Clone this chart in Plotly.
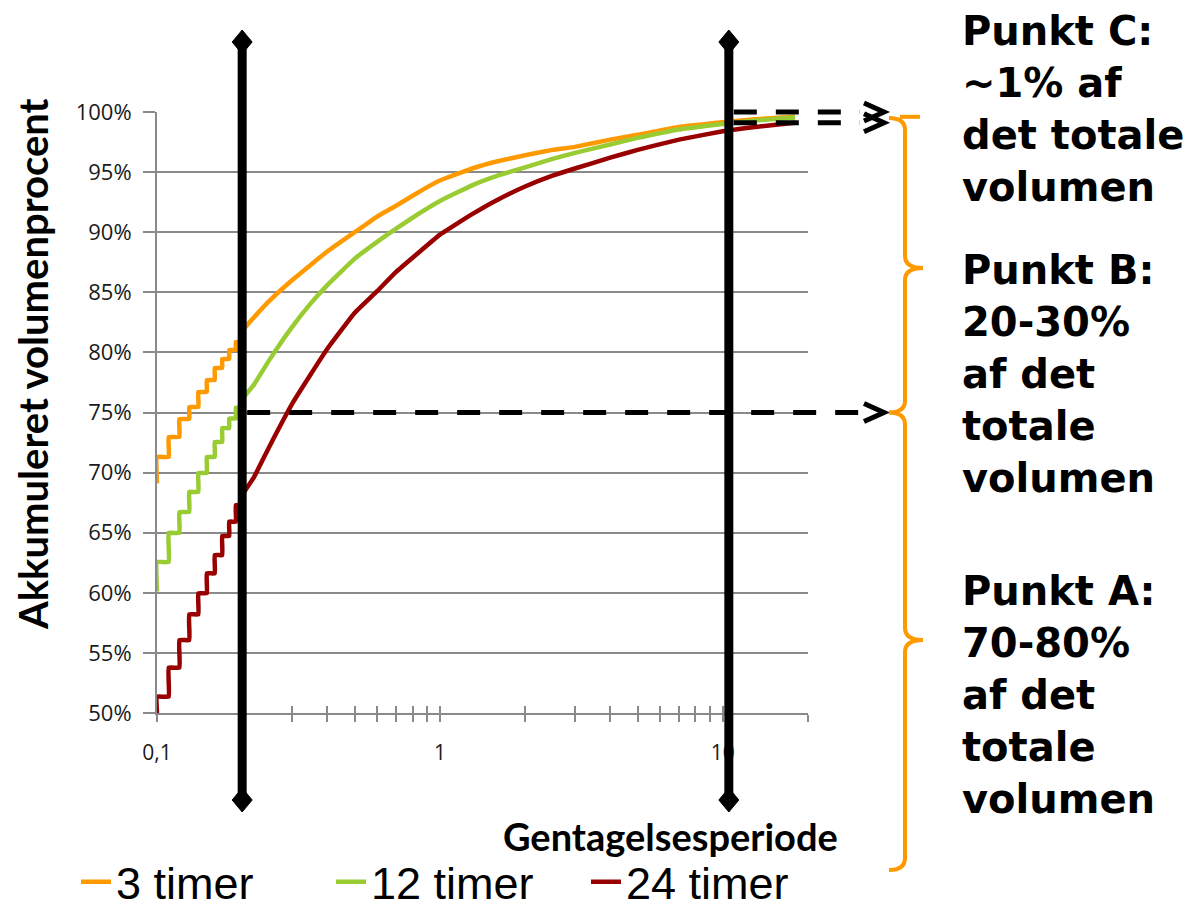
import math
import plotly.graph_objects as go

# ---------------- data ----------------
SERIES_NAMES = ["3 timer", "12 timer", "24 timer"]
SERIES_COLORS = ["#FF9900", "#99CC33", "#990000"]

# stepped part (return periods rounded to 0.01)
STEP_X = [0.10, 0.11, 0.12, 0.13, 0.14, 0.15, 0.16, 0.17, 0.18, 0.19, 0.20]
START_3 = 69.1
START_12 = 60.1
START_24 = 50.0
STEPS_3 = [71.30, 72.96, 74.46, 75.46, 76.71, 77.70, 78.70, 79.45, 80.20, 80.87, 81.75]
STEPS_12 = [62.56, 64.98, 66.72, 68.39, 69.97, 71.30, 72.55, 73.70, 74.50, 75.40, 76.10]
STEPS_24 = [51.36, 53.77, 56.07, 58.21, 59.96, 61.62, 63.14, 64.73, 65.92, 67.30, 68.10]

# smooth part
SMOOTH_X = [0.22, 0.25, 0.3, 0.35, 0.4, 0.5, 0.6, 0.7, 0.85, 1.0, 1.3, 1.6, 2, 2.5, 3, 4, 5, 7, 10, 13, 18]
SMOOTH_3 = [82.9, 84.3, 86.0, 87.3, 88.4, 90.0, 91.3, 92.2, 93.4, 94.3, 95.3, 95.9, 96.4,
            96.85, 97.1, 97.7, 98.1, 98.75, 99.15, 99.4, 99.6]
SMOOTH_12 = [77.3, 79.4, 82.1, 84.1, 85.6, 87.8, 89.2, 90.3, 91.6, 92.6, 93.9, 94.7, 95.4,
             96.1, 96.6, 97.3, 97.85, 98.55, 99.0, 99.3, 99.55]
SMOOTH_24 = [69.6, 72.2, 75.7, 78.2, 80.3, 83.3, 85.1, 86.7, 88.4, 89.8, 91.5, 92.7, 93.8,
             94.7, 95.3, 96.2, 96.85, 97.7, 98.4, 98.75, 99.1]

Y_TICKS = [50, 55, 60, 65, 70, 75, 80, 85, 90, 95, 100]
Y_TICK_TEXT = [f"{v}%" for v in Y_TICKS]
X_MAJOR = [0.1, 1, 10]
X_MAJOR_TEXT = ["0,1", "1", "10"]
X_MINOR = [0.2, 0.3, 0.4, 0.5, 0.6, 0.7, 0.8, 0.9, 2, 3, 4, 5, 6, 7, 8, 9, 20]

MARK_X = [0.2, 10.5]          # black vertical markers
LEVEL_A = 75.0                # dashed arrow level (Punkt A/B boundary)
LEVELS_C = [100.0, 99.1]      # dashed arrows near top

TEXT_C = "Punkt C:<br>~1% af<br>det totale<br>volumen"
TEXT_B = "Punkt B:<br>20-30%<br>af det<br>totale<br>volumen"
TEXT_A = "Punkt A:<br>70-80%<br>af det<br>totale<br>volumen"

# ---------------- layout geometry ----------------
OFF = 8                       # page body margin
W, H = 1198 - OFF, 918 - OFF
PL, PT, PW, PH = 157, 112, 651, 601   # plot area in reference pixels
X_RANGE = [-1.0, math.log10(20)]
Y_RANGE = [50, 100]


def xp(px):
    return (px - PL) / PW


def yp(py):
    return (PT + PH - py) / PH


def ypd(v):
    return (v - Y_RANGE[0]) / (Y_RANGE[1] - Y_RANGE[0])


def xdata_to_paper(x):
    return (math.log10(x) - X_RANGE[0]) / (X_RANGE[1] - X_RANGE[0])


def build(start, steps, smooth):
    xs, ys = [STEP_X[0]], [start]
    prev = start
    for x, y in zip(STEP_X, steps):
        xs += [x, x]
        ys += [prev, y]
        prev = y
    xs += SMOOTH_X
    ys += smooth
    return xs, ys


GRAY = "#8a8a8a"
fig = go.Figure()

for name, color, (st, sp, sm) in zip(
    SERIES_NAMES, SERIES_COLORS,
    [(START_3, STEPS_3, SMOOTH_3), (START_12, STEPS_12, SMOOTH_12), (START_24, STEPS_24, SMOOTH_24)],
):
    xs, ys = build(st, sp, sm)
    fig.add_trace(go.Scatter(x=xs, y=ys, mode="lines", name=name,
                             line=dict(color=color, width=4.5, shape="spline", smoothing=0.3)))

# dummy trace for the overlay axis (inside ticks)
fig.add_trace(go.Scatter(x=[None], y=[None], xaxis="x2", showlegend=False, hoverinfo="skip"))

shapes = []
hw, hh = 10 / PW, 12 / PH
for mx in MARK_X:
    xpp = xdata_to_paper(mx)
    shapes.append(dict(type="line", xref="paper", yref="paper",
                       x0=xpp, x1=xpp, y0=yp(795), y1=yp(48), line=dict(color="black", width=9)))
    for ypp in (yp(42), yp(800)):
        shapes.append(dict(type="path", xref="paper", yref="paper",
                           path=f"M {xpp - hw},{ypp} L {xpp},{ypp + hh} L {xpp + hw},{ypp} L {xpp},{ypp - hh} Z",
                           fillcolor="black", line=dict(color="black", width=1)))

DASH = "23px,19px"
shapes.append(dict(type="line", xref="paper", yref="paper",
                   x0=xdata_to_paper(MARK_X[0]) + 5 / PW, x1=xp(862), y0=ypd(LEVEL_A), y1=ypd(LEVEL_A),
                   line=dict(color="black", width=5, dash=DASH)))
for lv in LEVELS_C:
    shapes.append(dict(type="line", xref="paper", yref="paper",
                       x0=xdata_to_paper(MARK_X[1]) + 5 / PW, x1=xp(860), y0=ypd(lv), y1=ypd(lv),
                       line=dict(color="black", width=5, dash=DASH)))

dy = 9 / PH
for lv in [LEVEL_A] + LEVELS_C:
    yy = ypd(lv)
    shapes.append(dict(type="path", xref="paper", yref="paper",
                       path=f"M {xp(864)},{yy + dy} L {xp(884)},{yy} L {xp(864)},{yy - dy}",
                       line=dict(color="black", width=5)))


def brace(y_top, y_mid, y_bot):
    xl, xi, xo = xp(905), xp(889), xp(923)
    r = 12 / PH
    return (f"M {xi},{y_top} Q {xl},{y_top} {xl},{y_top - r} "
            f"L {xl},{y_mid + r} Q {xl},{y_mid} {xo},{y_mid} "
            f"Q {xl},{y_mid} {xl},{y_mid - r} "
            f"L {xl},{y_bot + r} Q {xl},{y_bot} {xi},{y_bot}")


ORANGE = "#FF9900"
shapes.append(dict(type="path", xref="paper", yref="paper", path=brace(ypd(99.5), yp(268), ypd(LEVEL_A)),
                   line=dict(color=ORANGE, width=4)))
shapes.append(dict(type="path", xref="paper", yref="paper", path=brace(ypd(LEVEL_A), yp(640), yp(870)),
                   line=dict(color=ORANGE, width=4)))
shapes.append(dict(type="line", xref="paper", yref="paper", x0=xp(900), x1=xp(920),
                   y0=ypd(99.6), y1=ypd(99.6), line=dict(color=ORANGE, width=4)))

annotations = [
    dict(text="<b>Gentagelsesperiode</b>", x=xp(670), y=yp(836), xref="paper", yref="paper",
         xanchor="center", yanchor="middle",
         showarrow=False, font=dict(family="Lato", size=38, color="black")),
    dict(text="<b>Akkumuleret volumenprocent</b>", x=xp(33), y=yp(364), xref="paper", yref="paper",
         xanchor="center", yanchor="middle",
         showarrow=False, textangle=-90, font=dict(family="Lato", size=40, color="black")),
]
for txt, cy in [(TEXT_C, 109), (TEXT_B, 374), (TEXT_A, 695)]:
    annotations.append(dict(text=f"<b>{txt}</b>", x=xp(960), y=yp(cy), xref="paper", yref="paper",
                            xanchor="left", yanchor="middle", align="left", showarrow=False,
                            font=dict(family="DejaVu Sans", size=40, color="black")))

all_x_ticks = X_MAJOR + X_MINOR
all_x_text = X_MAJOR_TEXT + [""] * len(X_MINOR)

fig.update_layout(
    width=W, height=H,
    margin=dict(l=PL - OFF, r=W - (PL - OFF) - PW, t=PT - OFF, b=H - (PT - OFF) - PH, autoexpand=False),
    paper_bgcolor="white", plot_bgcolor="white",
    showlegend=True,
    legend=dict(orientation="h", x=xp(76), y=yp(918), xanchor="left", yanchor="bottom",
                font=dict(family="Liberation Sans", size=45, color="black"),
                bgcolor="rgba(0,0,0,0)", entrywidth=210, entrywidthmode="pixels"),
    xaxis=dict(type="log", range=X_RANGE, tickvals=all_x_ticks, ticktext=all_x_text,
               ticks="outside", ticklen=7, tickwidth=1.5, tickcolor=GRAY,
               showgrid=False, showline=True, linecolor=GRAY, linewidth=2, zeroline=False,
               tickfont=dict(family="Open Sans", size=21, color="#1a1a1a"), ticklabelstandoff=13),
    xaxis2=dict(type="log", range=X_RANGE, overlaying="x", anchor="y", side="bottom",
                tickvals=all_x_ticks, showticklabels=False, ticks="inside", ticklen=7,
                tickwidth=1.5, tickcolor=GRAY, showgrid=False, showline=False, zeroline=False),
    yaxis=dict(range=Y_RANGE, tickvals=Y_TICKS, ticktext=Y_TICK_TEXT,
               ticks="outside", ticklen=12, tickwidth=2, tickcolor=GRAY,
               showgrid=True, gridcolor=GRAY, gridwidth=2,
               showline=True, linecolor=GRAY, linewidth=2, zeroline=False,
               tickfont=dict(family="Open Sans", size=22, color="#1a1a1a"), ticklabelstandoff=7),
    shapes=shapes,
    annotations=annotations,
)

fig.write_html("out.html")
